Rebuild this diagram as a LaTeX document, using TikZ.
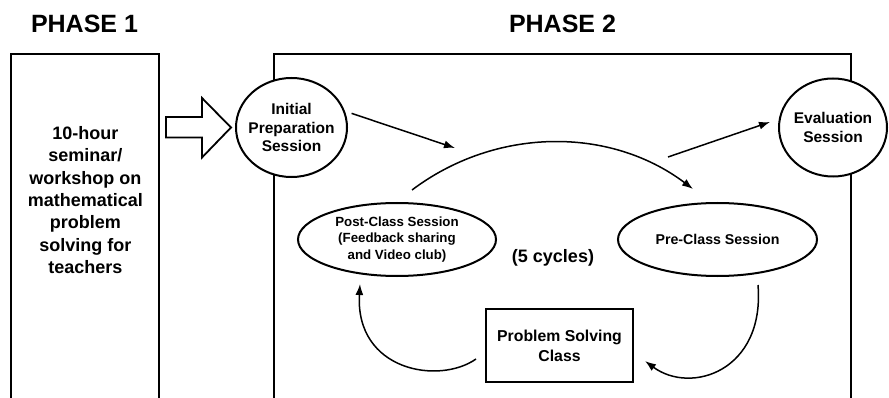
\documentclass[tikz,border=0pt]{standalone}
\usepackage{fontspec}
\setmainfont{Liberation Sans}
\usetikzlibrary{arrows.meta,calc,shapes.geometric}
\begin{document}
\begin{tikzpicture}[x=1pt,y=1pt,
  frame/.style={draw, line width=2pt, inner sep=0pt},
  bubble/.style={ellipse, draw, fill=white, line width=2pt, inner sep=-10pt, align=center},
  classbox/.style={rectangle, draw, fill=white, line width=2pt, inner sep=0pt, align=center},
  heading/.style={inner sep=0pt, font=\fontsize{25}{30}\selectfont\bfseries},
  txt/.style={inner sep=0pt, align=center},
  arr/.style={line width=1.5pt, -{Latex[length=11pt,width=8pt]}},
  hollow/.style={draw, line width=1.8pt, fill=white, line join=miter},
]
\fill[white] (0,0) rectangle (889,-398);
\clip (0,0) rectangle (889,-398);

% phase headings
\node[heading] (t1) at (84.5,-24) {PHASE 1};
\node[heading] (t2) at (562.5,-24) {PHASE 2};

% phase frames (open towards the bottom edge)
\node[frame, minimum width=148pt, minimum height=380pt] (p1) at (85.3,-243.7) {};
\node[frame, minimum width=577.3pt, minimum height=380pt] (p2) at (562.6,-243.7) {};

\node[txt, font=\fontsize{18}{22.3}\selectfont\bfseries] (p1t) at (85.3,-200)
  {10-hour\\seminar/\\workshop on\\mathematical\\problem\\solving for\\teachers};

% sessions
\node[bubble, minimum width=111pt, minimum height=99pt,
      font=\fontsize{15.5}{18.5}\selectfont\bfseries] (ips) at (291.5,-127.5)
  {Initial\\Preparation\\Session};
\node[bubble, minimum width=108pt, minimum height=98pt,
      font=\fontsize{15.5}{19}\selectfont\bfseries] (evs) at (833,-127.5)
  {Evaluation\\Session};
\node[bubble, minimum width=198pt, minimum height=73pt,
      font=\fontsize{13.3}{16.5}\selectfont\bfseries] (psc) at (397,-239.5)
  {Post-Class Session\\(Feedback sharing\\and Video club)};
\node[bubble, minimum width=199pt, minimum height=73pt,
      font=\fontsize{14.2}{17}\selectfont\bfseries] (prc) at (717.5,-239.5)
  {Pre-Class Session};
\node[classbox, minimum width=147pt, minimum height=73pt,
      font=\fontsize{15.8}{20}\selectfont\bfseries] (pbc) at (559.5,-345.5)
  {Problem Solving\\Class};
\node[txt, font=\fontsize{18}{22}\selectfont\bfseries] (cyc) at (553,-258) {(5 cycles)};

% hollow arrow from phase 1 into phase 2
\draw[hollow] ($(ips.west)+(-69,10.5)$) -- ++(36,0) -- ++(0,19) -- ($(ips.west)+(-4,0)$)
  -- ++(-29,-30) -- ++(0,20) -- ++(-36,0) -- cycle;

% free ends on the cycle
\coordinate (cin) at (455,-148);
\coordinate (cout) at (668,-157);

\draw[arr, shorten <=7pt] (ips.17) -- (cin);
\draw[arr] (cout) -- ($(evs.west)+(-8,5.5)$);

% the cycle
\draw[arr] ($(psc.north)+(15,12)$) to[out=37,in=143,looseness=0.95] ($(prc.north)+(-24.5,13)$);
\draw[arr] ($(prc.south)+(40.5,-8)$)
  .. controls ($(prc.south)+(47.5,-94)$) and ($(pbc.east)+(57,-49.5)$)
  .. ($(pbc.east)+(11,-15.5)$);
\draw[arr] ($(pbc.west)+(-9,-13.5)$)
  .. controls ($(pbc.west)+(-46,-39.5)$) and ($(psc.south)+(-42,-94)$)
  .. ($(psc.south)+(-37,-7)$);
\end{tikzpicture}
\end{document}
